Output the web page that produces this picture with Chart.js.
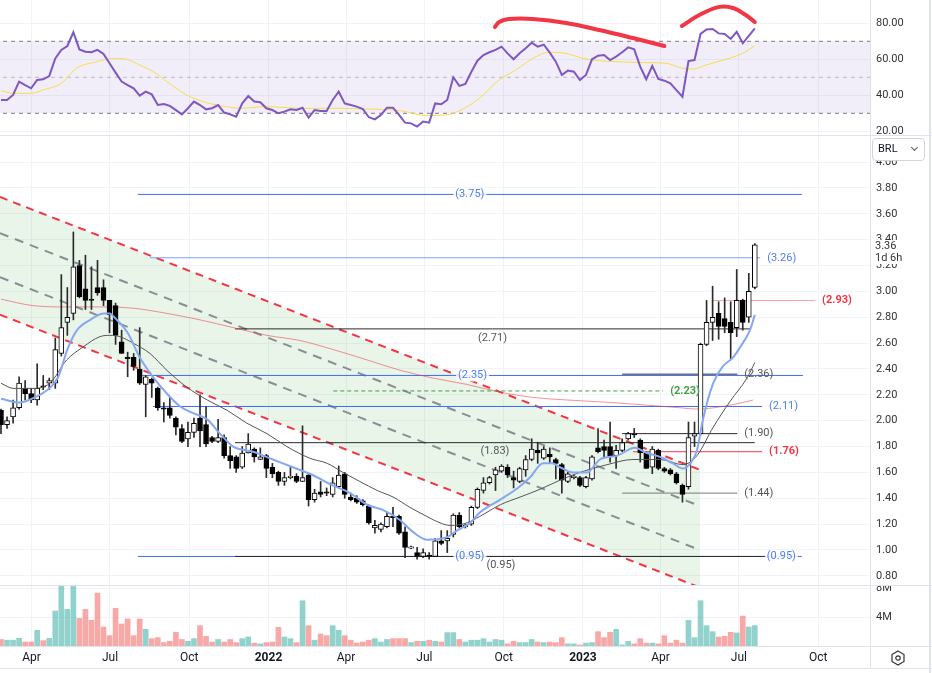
<!DOCTYPE html>
<html>
<head>
<meta charset="utf-8">
<script src="https://cdn.jsdelivr.net/npm/chart.js@4.4.1/dist/chart.umd.min.js"></script>
<style>
  html, body { margin: 0; background: #fff; }
  #wrap { position: relative; width: 932px; height: 673px; overflow: hidden; font-family: Roboto, sans-serif; }
  #wrap canvas { position: absolute; left: 0; }
  .ln { position: absolute; background: #e0e3eb; }
  #brl { position: absolute; left: 872px; top: 138px; width: 51px; height: 21px; border: 1px solid #d1d4dc; border-radius: 4px; background: #fff; font-size: 11px; color: #131722; line-height: 19px; }
  #brl .t { position: absolute; left: 5px; }
  #brl .c { position: absolute; right: 7px; top: 6px; width: 4px; height: 4px; border-right: 1px solid #555; border-bottom: 1px solid #555; transform: rotate(45deg); }
  #last { position: absolute; left: 871px; top: 240px; width: 57px; height: 24px; background: #fff; font-size: 11px; color: #333; line-height: 12px; padding-left: 4px; box-sizing: border-box; }
  #gear { position: absolute; left: 890px; top: 650px; }
</style>
</head>
<body>
<div id="wrap">
  <canvas id="rsi" width="932" height="135" style="top:0"></canvas>
  <canvas id="price" width="932" height="449" style="top:136px"></canvas>
  <canvas id="vol" width="932" height="82" style="top:586px"></canvas>
  <div class="ln" style="left:0;top:135px;width:932px;height:1px"></div>
  <div class="ln" style="left:0;top:585px;width:932px;height:1px"></div>
  <div class="ln" style="left:0;top:646px;width:932px;height:1px"></div>
  <div class="ln" style="left:0;top:668px;width:932px;height:1px"></div>
  <div class="ln" style="left:870px;top:0;width:1px;height:669px"></div>
  <div class="ln" style="left:929px;top:0;width:2px;height:673px"></div>
  <div id="brl"><span class="t">BRL</span><span class="c"></span></div>
  <div id="last">3.36<br>1d 6h</div>
  <svg id="gear" width="16" height="16" viewBox="0 0 16 16">
    <polygon points="8,1 14,4.5 14,11.5 8,15 2,11.5 2,4.5" fill="none" stroke="#333" stroke-width="1.2"/>
    <circle cx="8" cy="8" r="2.2" fill="none" stroke="#333" stroke-width="1.2"/>
  </svg>
</div>
<script>
Chart.defaults.font.family = 'Roboto, sans-serif';
Chart.defaults.font.size = 11;
Chart.defaults.color = '#333';

// weekly candles, first week starts Mon 2021-02-22
const firstWeek = '2021-02-22';
const opens = [2.08,1.97,2.03,2.10,2.25,2.21,2.16,2.27,2.29,2.29,2.52,2.76,2.83,3.20,3.02,2.94,3.03,3.03,2.93,2.89,
  2.61,2.49,2.49,2.40,2.28,2.32,2.25,2.10,2.10,2.02,1.94,1.86,1.91,2.02,1.97,1.87,1.84,1.87,1.73,1.72,
  1.64,1.75,1.78,1.70,1.73,1.64,1.60,1.53,1.56,1.57,1.53,1.58,1.39,1.45,1.45,1.43,1.49,1.59,1.41,1.40,
  1.38,1.34,1.17,1.16,1.18,1.26,1.26,1.14,1.015,0.98,0.95,0.96,0.95,1.07,1.07,1.12,1.27,1.18,1.20,1.33,
  1.46,1.52,1.58,1.61,1.64,1.56,1.53,1.62,1.70,1.77,1.71,1.74,1.70,1.66,1.53,1.56,1.56,1.49,1.55,1.79,
  1.80,1.80,1.73,1.77,1.86,1.895,1.85,1.75,1.64,1.77,1.63,1.62,1.59,1.50,1.49,1.88,1.90,2.59,2.76,2.83,
  2.79,2.76,2.72,2.93,2.80,3.03];
const highs = [2.09,2.03,2.16,2.34,2.31,2.25,2.44,2.35,2.33,2.64,3.13,3.03,3.46,3.24,3.28,3.19,3.24,3.09,2.93,2.91,
  2.70,2.53,2.52,2.72,2.35,2.33,2.26,2.14,2.18,2.03,1.97,1.99,2.02,2.20,2.11,1.88,2.01,1.89,1.80,1.73,
  1.80,1.90,1.79,1.79,1.74,1.67,1.61,1.60,1.64,1.59,1.96,1.59,1.47,1.53,1.48,1.56,1.65,1.60,1.44,1.42,
  1.39,1.35,1.23,1.21,1.29,1.33,1.27,1.18,1.03,1.02,1.01,0.98,1.09,1.15,1.15,1.28,1.29,1.20,1.34,1.48,
  1.56,1.57,1.64,1.66,1.66,1.61,1.64,1.73,1.86,1.83,1.80,1.79,1.71,1.67,1.60,1.58,1.57,1.57,1.73,1.94,
  1.85,1.99,1.81,1.86,1.91,1.94,1.86,1.76,1.80,1.78,1.64,1.63,1.60,1.51,1.99,1.99,2.60,2.93,3.04,2.92,
  2.95,2.92,3.17,2.94,3.14,3.37];
const lows = [1.90,1.94,1.98,2.09,2.16,2.14,2.12,2.24,2.24,2.25,2.50,2.66,2.78,2.95,2.86,2.86,2.97,2.89,2.68,2.59,
  2.52,2.34,2.39,2.28,2.03,2.18,2.08,1.99,2.02,1.89,1.83,1.80,1.87,1.80,1.80,1.83,1.83,1.71,1.63,1.60,
  1.63,1.75,1.68,1.70,1.56,1.56,1.50,1.50,1.55,1.52,1.53,1.34,1.37,1.41,1.42,1.41,1.48,1.40,1.38,1.36,
  1.34,1.20,1.13,1.14,1.17,1.18,1.12,0.94,1.01,0.93,0.94,0.93,0.95,1.04,0.98,1.10,1.17,1.17,1.19,1.32,
  1.44,1.51,1.46,1.60,1.56,1.48,1.52,1.57,1.69,1.67,1.70,1.67,1.55,1.44,1.52,1.55,1.49,1.48,1.54,1.75,
  1.72,1.68,1.63,1.76,1.85,1.87,1.68,1.63,1.59,1.62,1.60,1.58,1.51,1.37,1.47,1.80,1.89,2.58,2.62,2.63,
  2.68,2.48,2.65,2.70,2.76,3.02];
const closes = [1.97,2.00,2.10,2.29,2.21,2.16,2.25,2.26,2.31,2.55,2.72,2.80,3.19,2.96,2.93,2.93,2.99,2.93,2.82,2.66,
  2.52,2.48,2.42,2.29,2.34,2.29,2.10,2.09,2.04,1.95,1.84,1.91,1.98,1.92,1.82,1.84,1.87,1.73,1.69,1.63,
  1.75,1.82,1.72,1.72,1.63,1.59,1.53,1.56,1.57,1.53,1.56,1.39,1.44,1.43,1.44,1.52,1.58,1.43,1.39,1.37,
  1.35,1.21,1.19,1.20,1.26,1.25,1.13,1.02,1.025,0.95,0.98,0.95,1.07,1.05,1.09,1.27,1.18,1.19,1.33,1.47,
  1.52,1.56,1.62,1.65,1.58,1.54,1.63,1.70,1.78,1.75,1.78,1.72,1.67,1.54,1.59,1.57,1.50,1.56,1.72,1.76,
  1.77,1.73,1.77,1.83,1.90,1.89,1.75,1.63,1.78,1.63,1.61,1.59,1.52,1.43,1.87,1.90,2.59,2.76,2.80,2.73,
  2.73,2.68,2.93,2.76,3.00,3.36];
// volume in millions
const volumes = [0.9,0.8,0.8,1.06,0.55,0.55,2.17,0.74,1.06,4.83,9.5,5.06,9.0,3.82,5.06,3.54,7.3,2.62,1.43,5.2,
  3.04,3.73,1.43,3.73,2.3,1.02,1.16,0.47,0.65,1.89,0.9,0.65,1.02,2.81,1.34,0.55,0.9,0.55,0.9,0.47,
  1.02,1.25,0.4,0.3,0.47,0.55,2.58,1.25,1.02,0.47,6.25,2.81,0.8,1.66,1.43,2.81,2.17,1.43,0.8,0.4,
  0.55,0.8,1.02,0.55,0.9,1.02,1.02,1.02,0.47,0.65,0.65,0.8,0.65,0.55,1.85,1.85,0.9,0.55,0.8,0.8,
  1.02,0.55,0.9,0.8,0.3,0.65,0.47,0.47,0.9,0.55,0.47,0.55,0.47,1.16,0.3,0.3,0.15,0.4,0.47,1.98,
  1.16,1.89,2.3,0.15,0.65,0.3,1.02,0.4,0.4,0.3,1.43,0.4,0.8,0.4,3.54,1.16,6.25,2.81,1.98,1.25,
  1.34,1.89,1.8,4.14,2.62,2.81];
// RSI (14) per week
const rsi = [37.4,37.4,40.2,47.6,45.7,43.9,48.5,48.9,50.7,60.5,65.2,67.4,75.0,65.5,64.2,63.9,65.2,63.0,57.8,52.6,
  47.6,45.7,43.9,39.8,42.0,40.5,34.6,35.2,34.1,31.8,29.4,32.8,36.5,34.6,32.2,32.8,34.6,30.4,29.4,28.1,
  35.5,39.6,36.5,36.1,32.8,31.8,30.0,30.9,32.2,31.8,33.1,27.6,31.8,31.3,31.3,37.4,42.0,35.5,34.6,33.7,
  32.4,27.8,26.6,29.1,33.1,33.1,29.1,24.8,24.4,22.6,25.4,24.8,35.5,35.0,37.4,50.0,45.2,46.3,53.1,59.2,
  62.4,63.9,65.2,67.0,63.3,60.0,63.3,66.1,69.2,67.0,68.1,63.7,58.7,51.3,53.7,53.1,48.5,51.3,60.0,62.0,
  62.4,59.6,61.5,63.9,66.6,65.5,55.9,48.9,56.3,49.1,48.1,46.6,42.9,39.2,59.0,59.6,74.1,76.6,76.8,74.4,
  74.1,71.3,75.3,68.9,73.0,77.2];
// RSI moving average, read at these week positions
const rsiMaAt = [0,2,5,7,10,12.5,16,18.6,20.8,23,25.3,27.5,30.8,34.1,37.4,39.6,44,49.6,55.1,60.6,66.2,70.6,73.9,77.1,
  79.3,82.6,85.4,88.2,90.9,93.7,96.5,99.2,102,104.8,108.1,110.3,113,114.7,116.9,120.2,123,125];
const rsiMa = [42.6,41.1,41.1,43.0,46.6,55.0,58.7,60.5,60.0,56.8,53.1,47.6,40.2,35.9,33.7,32.8,33.7,32.8,32.8,32.4,31.5,28.7,29.1,33.3,
  38.3,48.5,54.1,60.5,63.9,63.3,60.5,59.2,58.7,58.3,58.1,57.8,55.0,54.6,56.8,60.0,63.3,67.6];
const rsiLevels = [70, 50, 30];
// hand drawn marks on the RSI pane
const arcAAt = [81.9,82.6,84.2,88.2,93.7,99.2,104.8,110];
const arcA = [77.9,80.7,82.4,82.4,80.2,76.3,71.8,67.4];
const arcBAt = [112.9,115.8,119.1,121.4,123.5,125];
const arcB = [78.5,84.6,89.1,88.5,84.6,80.7];

// price moving averages
const maFastAt = [0,3,6,8,9.5,11,12.6,14.8,17,18,19,21,23,25,27.5,29.7,31.8,34.2,36.3,38.5,41.8,45.1,48.4,51.2,55,57.9,60.7,63.3,66.2,68.3,
  70.6,74,75.6,77.8,79.4,82.8,85.7,87.7,89.9,91.4,92.7,94.9,97.2,99.3,102.2,105.1,107.1,109.3,111.4,113.1,114.3,115.4,116.4,118.1,119.7,121.4,123,124.2,125];
const maFast = [2.17,2.14,2.19,2.25,2.34,2.55,2.70,2.78,2.83,2.83,2.79,2.68,2.49,2.35,2.21,2.11,2.06,2.01,1.90,1.80,1.76,1.70,1.64,1.59,1.50,1.44,1.35,1.31,1.23,1.14,
  1.08,1.10,1.15,1.21,1.29,1.39,1.48,1.56,1.67,1.67,1.64,1.60,1.60,1.70,1.73,1.79,1.75,1.72,1.67,1.63,1.67,1.77,2.01,2.29,2.42,2.49,2.60,2.70,2.82];
const maMidAt = [0,2,5.3,8.1,10.9,13.6,16.4,18.1,19.7,21.9,24.7,27.5,30.8,34.2,37.5,40.8,44.1,47.4,51.2,54.1,56.7,59.5,62.4,65,67.8,
  70.6,72.8,74.5,77.3,79.4,82.8,86.1,89.4,92.7,96,100.5,104.8,109.3,113.1,115.4,118.1,120.9,123.7,125];
const maMid = [2.29,2.25,2.25,2.29,2.47,2.57,2.65,2.66,2.65,2.60,2.52,2.39,2.26,2.16,2.08,1.98,1.90,1.80,1.71,1.67,1.60,1.53,1.46,1.41,1.33,
  1.26,1.21,1.19,1.21,1.26,1.35,1.41,1.47,1.54,1.60,1.66,1.70,1.70,1.66,1.73,1.95,2.15,2.33,2.45];
const maSlowAt = [0,5.3,10.9,16.4,21.9,27.5,33,38.5,44.1,49.6,55.1,60.7,66.2,71.6,77.3,82.8,88.2,93.9,101.5,107.1,112.6,115.4,120.9,124.7];
const maSlow = [2.94,2.89,2.88,2.88,2.87,2.83,2.78,2.72,2.66,2.62,2.55,2.47,2.39,2.33,2.28,2.22,2.18,2.16,2.14,2.12,2.10,2.09,2.12,2.16];

// descending channel (start / end week)
const channelAt = [-0.17, 115.9];
const chanUpper = [3.73, 1.62];
const chanUpperMid = [3.45, 1.34];
const chanLowerMid = [3.11, 1.00];
const chanLower = [2.82, 0.71];

// horizontal levels
const levelPrice = [3.75, 3.26, 2.93, 2.71, 2.35, 2.23, 2.36, 2.11, 1.90, 1.83, 1.76, 1.44, 0.95, 0.95];
const levelFrom = [22.7, 24.7, 118.1, 38.8, 23.4, 55.1, 103, 25.2, 103, 38.8, 104.8, 103, 38.8, 22.7];
const levelTo = [132.8, 125.9, 135, 124.2, 133, 109.8, 122.1, 126.2, 122.1, 125, 126.2, 122.1, 127, 132.8];
const levelKind = ['blueMid','paleBlueEnd','paleRedEnd','darkBelow','blueMid','greenEnd','darkEnd','blueEnd','darkEnd','darkBelow','redEnd','grayEnd','darkBelow','blueMidEnd'];

const tickDates = ['2021-04-01','2021-07-01','2021-10-01','2022-01-01','2022-04-01','2022-07-01','2022-10-01','2023-01-01','2023-04-01','2023-07-01','2023-10-01'];
const tickLabels = ['Apr','Jul','Oct','2022','Apr','Jul','Oct','2023','Apr','Jul','Oct'];
const priceTicks = [0.8,1.0,1.2,1.4,1.6,1.8,2.0,2.2,2.4,2.6,2.8,3.0,3.2,3.4,3.6,3.8,4.0];
const rsiTicks = [20, 40, 60, 80];
const volTicks = [4, 8];

const levelStyles = {
  blueMid:     { line: '#3b6ef5', text: '#4d7ef7', pos: 'mid' },
  blueMidEnd:  { line: '#3b6ef5', text: '#4d7ef7', pos: 'midEnd' },
  blueEnd:     { line: '#3b6ef5', text: '#4d7ef7', pos: 'end' },
  paleBlueEnd: { line: '#7ea1f7', text: '#4d7ef7', pos: 'end' },
  paleRedEnd:  { line: '#f6a2a8', text: '#f23645', pos: 'end', bold: true },
  redEnd:      { line: '#f23645', text: '#f23645', pos: 'end', bold: true },
  greenEnd:    { line: '#43a047', text: '#43a047', pos: 'end', bold: true, dash: [4, 3] },
  darkBelow:   { line: '#2a2a2a', text: '#555', pos: 'below' },
  darkEnd:     { line: '#2a2a2a', text: '#555', pos: 'end' },
  grayEnd:     { line: '#777', text: '#555', pos: 'end' }
};

// week index of a calendar date (candle centred mid-week)
const weekOf = d => (Date.parse(d) - Date.parse(firstWeek) - 2.5 * 864e5) / (7 * 864e5);
const tickPos = tickDates.map(weekOf);
const X_MIN = -0.166, X_MAX = 144.1;
const pts = (xs, ys) => xs.map((x, k) => ({ x, y: ys[k] }));
const isUp = closes.map((c, i) => c >= opens[i]);

function xAxis(showLabels) {
  return {
    type: 'linear', min: X_MIN, max: X_MAX, offset: false,
    afterBuildTicks: s => { s.ticks = tickPos.map(v => ({ value: v })); },
    afterFit: s => { s.height = showLabels ? 22 : 0; s.paddingLeft = 0; s.paddingRight = 0; },
    grid: { color: '#f0f3fa', drawTicks: false, offset: false },
    border: { display: false },
    ticks: {
      display: showLabels, autoSkip: false, maxRotation: 0, padding: 5, color: '#131722',
      font: c => ({ size: 12, weight: /^\d{4}$/.test(tickLabels[c.index]) ? 'bold' : 'normal' }),
      callback: (v, i) => tickLabels[i]
    }
  };
}

function yAxis(min, max, ticks, fmt) {
  return {
    type: 'linear', position: 'right', min, max,
    afterBuildTicks: s => { s.ticks = ticks.map(v => ({ value: v })); },
    afterFit: s => { s.width = 62; s.paddingTop = 0; s.paddingBottom = 0; },
    grid: { color: '#f0f3fa', drawTicks: false },
    border: { display: false },
    ticks: { padding: 6, color: '#333', autoSkip: false, callback: fmt }
  };
}

const baseOpts = {
  responsive: false, animation: false, devicePixelRatio: 1,
  layout: { padding: 0 },
  plugins: { legend: { display: false }, tooltip: { enabled: false } }
};

const flatLine = (y, extra) => Object.assign({
  type: 'line', data: [{ x: -1, y }, { x: 146, y }],
  pointRadius: 0, borderWidth: 1, fill: false
}, extra);

// RSI pane
new Chart(document.getElementById('rsi'), {
  type: 'line',
  data: {
    datasets: [
      flatLine(rsiLevels[0], { borderColor: '#787b86', borderDash: [4, 4], fill: { target: 2 }, backgroundColor: 'rgba(126,87,194,0.1)', order: 10 }),
      flatLine(rsiLevels[1], { borderColor: 'rgba(120,123,134,0.45)', borderDash: [4, 4], order: 10 }),
      flatLine(rsiLevels[2], { borderColor: '#787b86', borderDash: [4, 4], order: 10 }),
      { data: pts(rsiMaAt, rsiMa), borderColor: '#f5dd4b', borderWidth: 1, pointRadius: 0, cubicInterpolationMode: 'monotone', order: 3 },
      { data: rsi.map((r, i) => ({ x: i, y: r })), borderColor: '#7e57c2', borderWidth: 2, pointRadius: 0, order: 2 },
      { data: pts(arcAAt, arcA), borderColor: '#f23645', borderWidth: 4, pointRadius: 0, tension: 0.4, borderCapStyle: 'round', order: 1 },
      { data: pts(arcBAt, arcB), borderColor: '#f23645', borderWidth: 4, pointRadius: 0, tension: 0.4, borderCapStyle: 'round', order: 1 }
    ]
  },
  options: Object.assign({}, baseOpts, {
    scales: { x: xAxis(false), y: yAxis(17.94, 92.94, rsiTicks, v => v.toFixed(2)) }
  })
});

// level labels drawn at the scale positions of each level
const levelLabels = {
  id: 'levelLabels',
  afterDatasetsDraw(chart) {
    const { ctx, scales: { x, y } } = chart;
    ctx.save();
    ctx.textBaseline = 'middle';
    levelPrice.forEach((p, k) => {
      const st = levelStyles[levelKind[k]];
      const txt = '(' + p.toFixed(2) + ')';
      const py = y.getPixelForValue(p);
      const x0 = x.getPixelForValue(levelFrom[k]);
      const x1 = x.getPixelForValue(levelTo[k]);
      ctx.font = (st.bold ? 'bold ' : '') + '11px Roboto, sans-serif';
      const w = ctx.measureText(txt).width;
      const put = (tx, ty, bg) => {
        if (bg) { ctx.fillStyle = 'rgba(255,255,255,0.85)'; ctx.fillRect(tx - 2, ty - 6, w + 4, 12); }
        ctx.fillStyle = st.text;
        ctx.textAlign = 'left';
        ctx.fillText(txt, tx, ty);
      };
      if (st.pos === 'mid' || st.pos === 'midEnd') put((x0 + x1) / 2 - w / 2, py, true);
      if (st.pos === 'midEnd') put(x1 - 35, py, true);
      if (st.pos === 'below') put((x0 + x1) / 2 - w / 2, py + 9, false);
      if (st.pos === 'end') put(x1 + 7, py, false);
    });
    ctx.restore();
  }
};

const priceSets = [
  { type: 'line', data: pts(channelAt, chanUpper), borderColor: '#f23645', borderDash: [8, 6], borderWidth: 2, pointRadius: 0,
    fill: { target: 3 }, backgroundColor: 'rgba(76,175,80,0.13)', order: 20 },
  { type: 'line', data: pts(channelAt, chanUpperMid), borderColor: '#8a8d96', borderDash: [9, 7], borderWidth: 2, pointRadius: 0, order: 19 },
  { type: 'line', data: pts(channelAt, chanLowerMid), borderColor: '#8a8d96', borderDash: [9, 7], borderWidth: 2, pointRadius: 0, order: 19 },
  { type: 'line', data: pts(channelAt, chanLower), borderColor: '#f23645', borderDash: [8, 6], borderWidth: 2, pointRadius: 0, order: 19 }
];
levelPrice.forEach((p, k) => {
  const st = levelStyles[levelKind[k]];
  priceSets.push({
    type: 'line', data: [{ x: levelFrom[k], y: p }, { x: levelTo[k], y: p }],
    borderColor: st.line, borderWidth: 1, borderDash: st.dash || [], pointRadius: 0, fill: false, order: 12
  });
});
priceSets.push(
  { type: 'line', data: pts(maSlowAt, maSlow), borderColor: 'rgba(242,54,69,0.55)', borderWidth: 1, pointRadius: 0, cubicInterpolationMode: 'monotone', order: 11 },
  { type: 'bar', data: highs.map((h, i) => ({ x: i, y: [lows[i], h] })), backgroundColor: '#2b2b2b',
    barThickness: 1, grouped: false, order: 6 },
  { type: 'bar', data: opens.map((o, i) => ({ x: i, y: [o, closes[i]] })),
    backgroundColor: isUp.map(u => u ? '#ffffff' : '#000000'), borderColor: '#000', borderWidth: 1,
    borderSkipped: false, barThickness: 5, minBarLength: 1, grouped: false, order: 5 },
  { type: 'line', data: pts(maMidAt, maMid), borderColor: '#555', borderWidth: 1, pointRadius: 0, cubicInterpolationMode: 'monotone', order: 3 },
  { type: 'line', data: pts(maFastAt, maFast), borderColor: '#86a8f2', borderWidth: 2, pointRadius: 0, cubicInterpolationMode: 'monotone', order: 2 }
);

new Chart(document.getElementById('price'), {
  type: 'bar',
  data: { datasets: priceSets },
  options: Object.assign({}, baseOpts, {
    scales: { x: xAxis(false), y: yAxis(0.7293, 4.2019, priceTicks, v => v.toFixed(2)) }
  }),
  plugins: [levelLabels]
});

// volume pane with the time axis
new Chart(document.getElementById('vol'), {
  type: 'bar',
  data: {
    datasets: [{
      data: volumes.map((v, i) => ({ x: i, y: v })),
      backgroundColor: isUp.map(u => u ? 'rgba(38,166,154,0.5)' : 'rgba(239,83,80,0.5)'),
      barThickness: 5, grouped: false
    }]
  },
  options: Object.assign({}, baseOpts, {
    scales: { x: xAxis(true), y: yAxis(0, 8.28, volTicks, v => v + 'M') }
  })
});
</script>
</body>
</html>
